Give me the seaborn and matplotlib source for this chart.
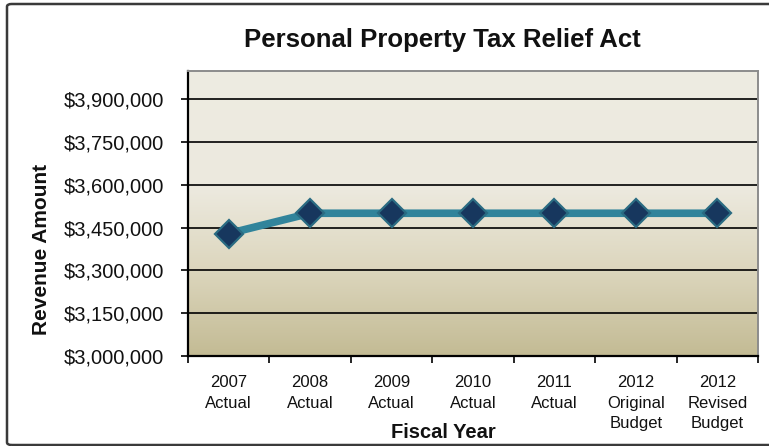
import numpy as np
import pandas as pd
import matplotlib
matplotlib.use("Agg")
import matplotlib.pyplot as plt
import seaborn as sns
from matplotlib.patches import FancyBboxPatch
from matplotlib.colors import LinearSegmentedColormap
from matplotlib.ticker import FuncFormatter, FixedLocator

# Revenue by fiscal year
categories = ["2007\nActual", "2008\nActual", "2009\nActual", "2010\nActual",
              "2011\nActual", "2012\nOriginal\nBudget", "2012\nRevised\nBudget"]
revenue = [3429000, 3500000, 3500000, 3500000, 3500000, 3500000, 3500000]
y_ticks = [3000000, 3150000, 3300000, 3450000, 3600000, 3750000, 3900000]

title = "Personal Property Tax Relief Act"
x_label = "Fiscal Year"
y_label = "Revenue Amount"

sns.set_theme(style="white")
plt.rcParams["font.family"] = ["Liberation Sans", "DejaVu Sans"]

fig = plt.figure(figsize=(7.69, 4.46), dpi=100)
fig.patch.set_facecolor("white")
ax = fig.add_axes([188 / 769, 90 / 446, 570 / 769, 285.5 / 446])

df = pd.DataFrame({"pos": np.arange(len(categories)), "revenue": revenue})

# gradient plot-area fill: light upper half, fading to tan at the bottom
grad = LinearSegmentedColormap.from_list(
    "tan", [(0.0, "#EEECE2"), (0.42, "#ECE9DE"), (0.7, "#DCD6BD"),
            (1.0, "#C3BB94")])
ax.imshow(np.linspace(0, 1, 256).reshape(-1, 1), cmap=grad, aspect="auto",
          extent=(-0.5, len(categories) - 0.5, 3000000, 4000000),
          origin="upper", zorder=0, interpolation="bicubic")

for yv in y_ticks[1:]:
    ax.axhline(yv, color="black", lw=1.2, zorder=1)

sns.lineplot(data=df, x="pos", y="revenue", ax=ax, color="#31849B",
             lw=5.5, marker="D", markersize=14.5, markerfacecolor="#17375E",
             markeredgecolor="#2A6B82", markeredgewidth=1.6, zorder=3)

ax.set_xlim(-0.5, len(categories) - 0.5)
ax.set_ylim(3000000, 4000000)
ax.set_yticks(y_ticks)
ax.yaxis.set_major_formatter(FuncFormatter(lambda v, p: f"${v:,.0f}"))
ax.set_xticks(np.arange(len(categories)))
ax.set_xticklabels(categories, fontsize=12, linespacing=1.45, va="top")
ax.xaxis.set_minor_locator(FixedLocator(np.arange(len(categories) + 1) - 0.5))
ax.tick_params(axis="x", which="major", length=0, pad=14, colors="#111111")
ax.tick_params(axis="x", which="minor", length=5, width=1.2, color="black",
               bottom=True)
ax.tick_params(axis="y", length=5, width=1.2, color="black", pad=12,
               labelsize=14.5, left=True, labelcolor="#111111")
ax.set_xlabel("")
ax.set_ylabel("")

for side in ["left", "bottom"]:
    ax.spines[side].set_color("black")
    ax.spines[side].set_linewidth(1.6)
for side in ["top", "right"]:
    ax.spines[side].set_color("#8C8C8C")
    ax.spines[side].set_linewidth(1.4)

fig.text(442 / 769, 1 - 40 / 446, title, ha="center", va="center",
         fontsize=18.5, fontweight="bold", color="#111111")
fig.text(443 / 769, 1 - 432 / 446, x_label, ha="center", va="center",
         fontsize=14.5, fontweight="bold", color="#111111")
fig.text(42 / 769, 1 - 249 / 446, y_label, ha="center", va="center",
         rotation=90, fontsize=15, fontweight="bold", color="#111111")

# chart frame
frame = FancyBboxPatch((7 / 769, 1 / 446), 1.2, 1 - 5 / 446,
                       boxstyle="round,pad=0,rounding_size=0.006",
                       transform=fig.transFigure, fill=False,
                       edgecolor="#3A3A3A", lw=1.8, clip_on=False)
fig.patches.append(frame)

fig.savefig("out.png", dpi=100)
